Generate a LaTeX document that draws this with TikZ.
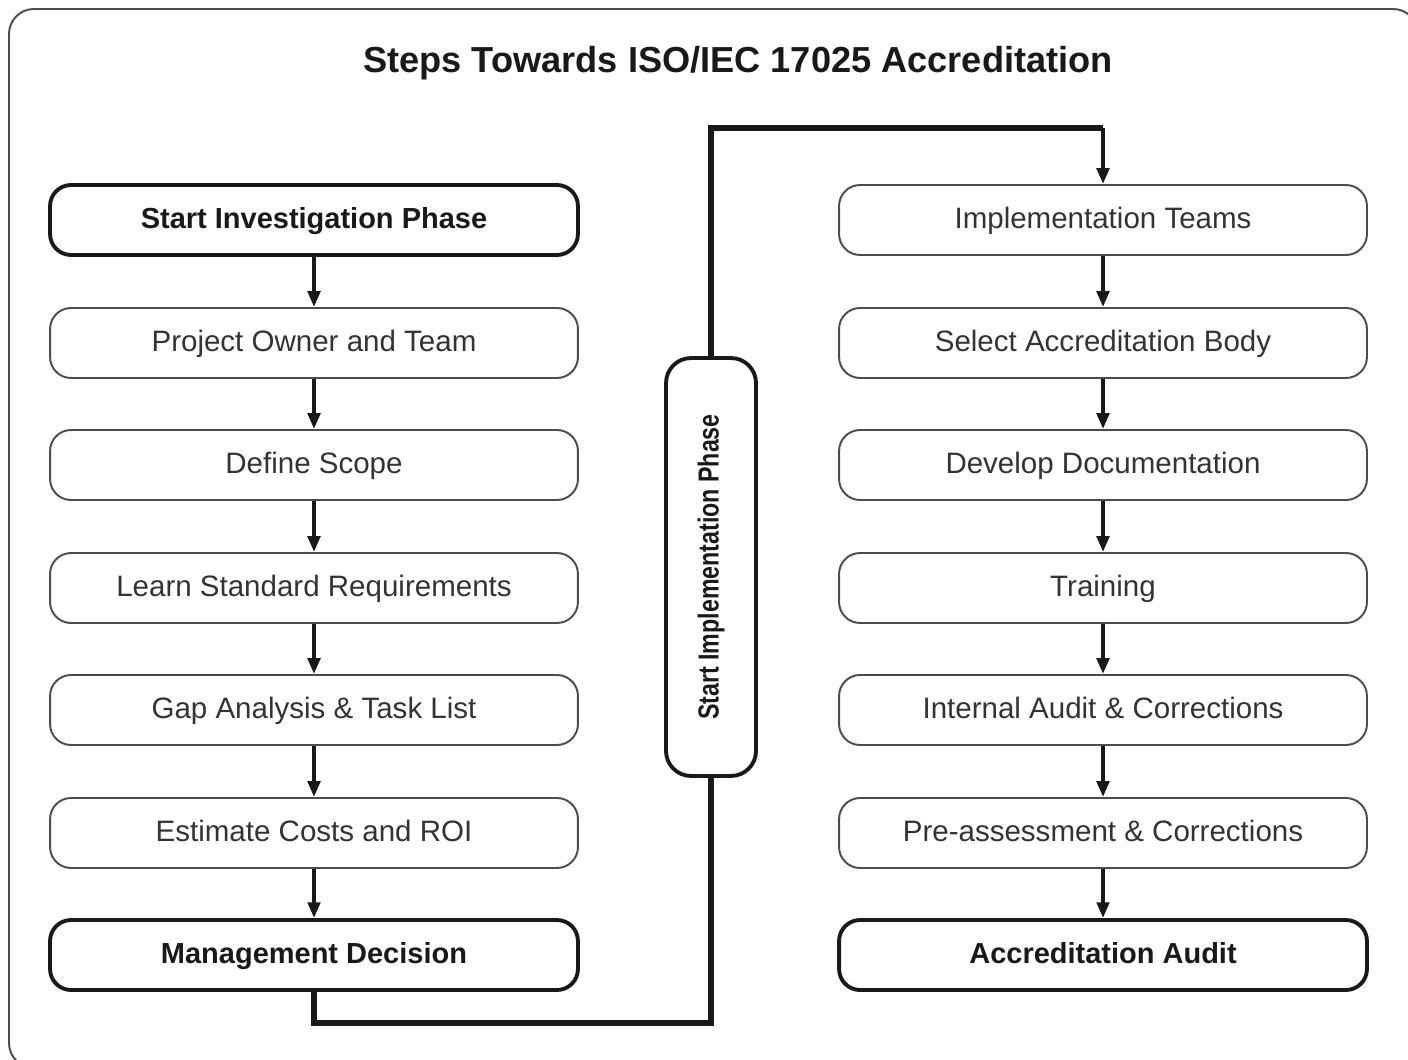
\documentclass[tikz,border=0pt]{standalone}
\usepackage{fontspec}
\setmainfont{Liberation Sans}
\usetikzlibrary{arrows.meta}
\begin{document}
\begin{tikzpicture}[x=0.02cm,y=-0.02cm,
  stepbox/.style={draw=black!70, line width=1.1pt, rounded corners=0.42cm,
    minimum width=10.56cm, minimum height=1.4cm, inner sep=0pt,
    text height=2.0ex, text depth=0.2ex,
    font=\fontsize{16.8}{19}\selectfont, text=black!80},
  boldbox/.style={stepbox, draw=black!90, line width=2.2pt,
    font=\bfseries\fontsize{16.5}{19}\selectfont, text=black!90},
  flow/.style={line width=2.2pt, draw=black!90, -{Triangle[length=9pt,width=7pt]}},
  link/.style={line width=3.3pt, draw=black!90, line join=miter}]
\useasboundingbox (0,0) rectangle (1408,1060);
\clip (0,0) rectangle (1408,1060);
\draw[black!70, line width=1.1pt, rounded corners=0.5cm] (9,9) rectangle (1418,1068);
\node[font=\bfseries\fontsize{20.6}{24}\selectfont, text=black!90] (title) at (738,63) {Steps Towards ISO/IEC 17025 Accreditation};
% left column
\node[boldbox] (l1) at (314,220) {Start Investigation Phase};
\node[stepbox] (l2) at (314,343) {Project Owner and Team};
\node[stepbox] (l3) at (314,465) {Define Scope};
\node[stepbox] (l4) at (314,588) {Learn Standard Requirements};
\node[stepbox] (l5) at (314,710) {Gap Analysis \& Task List};
\node[stepbox] (l6) at (314,833) {Estimate Costs and ROI};
\node[boldbox] (l7) at (314,955) {Management Decision};
% right column
\node[stepbox] (r1) at (1103,220) {Implementation Teams};
\node[stepbox] (r2) at (1103,343) {Select Accreditation Body};
\node[stepbox] (r3) at (1103,465) {Develop Documentation};
\node[stepbox] (r4) at (1103,588) {Training};
\node[stepbox] (r5) at (1103,710) {Internal Audit \& Corrections};
\node[stepbox] (r6) at (1103,833) {Pre-assessment \& Corrections};
\node[boldbox] (r7) at (1103,955) {Accreditation Audit};
% middle
\node[draw=black!90, line width=2.2pt, rounded corners=0.5cm, minimum width=1.8cm,
  minimum height=8.36cm, inner sep=0pt] (mid) at (711,567) {};
\node[rotate=90, font=\bfseries\fontsize{16.5}{18}\selectfont, text=black!90] (midtext) at (mid.center)
  {\scalebox{0.8}[1]{Start Implementation Phase}};
% arrows
\foreach \a/\b in {l1/l2,l2/l3,l3/l4,l4/l5,l5/l6,l6/l7,r1/r2,r2/r3,r3/r4,r4/r5,r5/r6,r6/r7}
  \draw[flow] (\a.south) -- (\b.north);
\coordinate (cb) at (314,1023);
\coordinate (ct) at (1103,128);
\draw[link] (l7.south) -- (cb) -| (mid.south);
\draw[link] (mid.north) |- (ct);
\draw[flow] (ct) -- (r1.north);
\end{tikzpicture}
\end{document}
